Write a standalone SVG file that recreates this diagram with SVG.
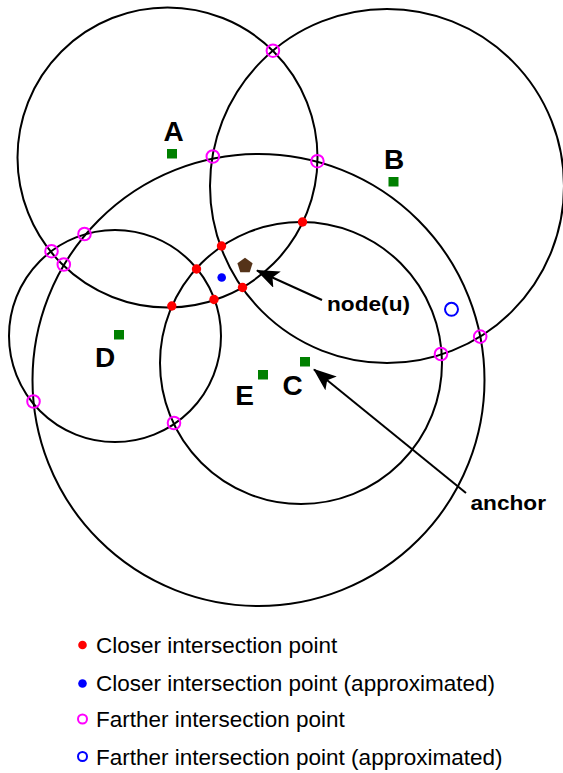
<svg xmlns="http://www.w3.org/2000/svg" width="563" height="773" viewBox="0 0 563 773">
<style>
.ring{fill:none;stroke:#000;stroke-width:2}
.sq{fill:#008000}
.lbl{font-family:"Liberation Sans",Arial,sans-serif;font-weight:bold;font-size:28px;fill:#000;text-anchor:middle}
.tag{font-family:"Liberation Sans",Arial,sans-serif;font-weight:bold;font-size:20px;fill:#000}
.leg{font-family:"Liberation Sans",Arial,sans-serif;font-size:22.5px;fill:#000}
.far{fill:none;stroke:#ff00ff;stroke-width:2}
.close{fill:#ff0000}
.appc{fill:#0000ff}
.appf{fill:none;stroke:#0000ff;stroke-width:2}
.arr{stroke:#000;stroke-width:2;fill:none}
</style>
<defs>
<marker id="ah" markerUnits="userSpaceOnUse" markerWidth="26" markerHeight="20" refX="22" refY="9" orient="auto">
<path d="M0,0 L23,9 L0,18 L5,9 z" fill="#000"/>
</marker>
</defs>
<rect width="563" height="773" fill="#fff"/>
<g id="circles">
<g id="A"><circle class="ring" cx="167.5" cy="157.5" r="150"/><rect class="sq" x="167" y="149" width="10" height="9.5"/><text class="lbl" x="173.5" y="141">A</text></g>
<g id="B"><circle class="ring" cx="387" cy="186" r="177"/><rect class="sq" x="388.5" y="177" width="10" height="9.5"/><text class="lbl" x="394" y="168.5">B</text></g>
<g id="E"><circle class="ring" cx="258.5" cy="380" r="226"/><rect class="sq" x="258" y="370" width="10" height="9.5"/><text class="lbl" x="244.5" y="405">E</text></g>
<g id="C"><circle class="ring" cx="301" cy="363" r="141"/><rect class="sq" x="300" y="357" width="10" height="9.5"/><text class="lbl" x="292.5" y="395">C</text></g>
<g id="D"><circle class="ring" cx="115" cy="336" r="106"/><rect class="sq" x="114" y="330" width="10" height="9.5"/><text class="lbl" x="105" y="366.5">D</text></g>
</g>
<g id="farther-points">
<circle class="far" cx="272.9" cy="50.7" r="6.3"/>
<circle class="far" cx="212.8" cy="156.5" r="6.3"/>
<circle class="far" cx="317.4" cy="161.2" r="6.3"/>
<circle class="far" cx="84.5" cy="234" r="6.3"/>
<circle class="far" cx="51.5" cy="251.2" r="6.3"/>
<circle class="far" cx="63.8" cy="264.5" r="6.3"/>
<circle class="far" cx="33.5" cy="401.5" r="6.3"/>
<circle class="far" cx="174" cy="423" r="6.3"/>
<circle class="far" cx="441" cy="354" r="6.3"/>
<circle class="far" cx="480.2" cy="336.6" r="6.3"/>
<circle class="appf" cx="451.5" cy="309.3" r="6.5"/>
</g>
<g id="closer-points">
<circle class="close" cx="302.5" cy="222" r="4.7"/>
<circle class="close" cx="221.5" cy="246" r="4.7"/>
<circle class="close" cx="196.5" cy="269" r="4.7"/>
<circle class="close" cx="171.8" cy="306" r="4.7"/>
<circle class="close" cx="214" cy="299.5" r="4.7"/>
<circle class="close" cx="242.5" cy="287.5" r="4.7"/>
<circle class="appc" cx="221.7" cy="277.5" r="4.3"/>
</g>
<g id="node-u"><polygon points="245,257.7 252.6,263.2 249.7,272.3 240.3,272.3 237.4,263.2" fill="#553319"/></g>
<g id="connectors">
<line class="arr" x1="322" y1="300" x2="257" y2="270.5" marker-end="url(#ah)"/>
<line class="arr" x1="466" y1="493" x2="314" y2="369.5" marker-end="url(#ah)"/>
</g>
<g id="labels">
<text class="tag" x="327" y="311" textLength="83" lengthAdjust="spacingAndGlyphs">node(u)</text>
<text class="tag" x="470.5" y="510" textLength="75.5" lengthAdjust="spacingAndGlyphs">anchor</text>
</g>
<g id="legend">
<circle class="close" cx="82.5" cy="645" r="4.3"/>
<text class="leg" x="96" y="652.5">Closer intersection point</text>
<circle class="appc" cx="82.5" cy="683.5" r="4.3"/>
<text class="leg" x="96" y="691">Closer intersection point (approximated)</text>
<circle class="far" cx="82.5" cy="719" r="4.5"/>
<text class="leg" x="96" y="727">Farther intersection point</text>
<circle class="appf" cx="82.5" cy="756.5" r="4.5"/>
<text class="leg" x="96" y="765">Farther intersection point (approximated)</text>
</g>
</svg>
